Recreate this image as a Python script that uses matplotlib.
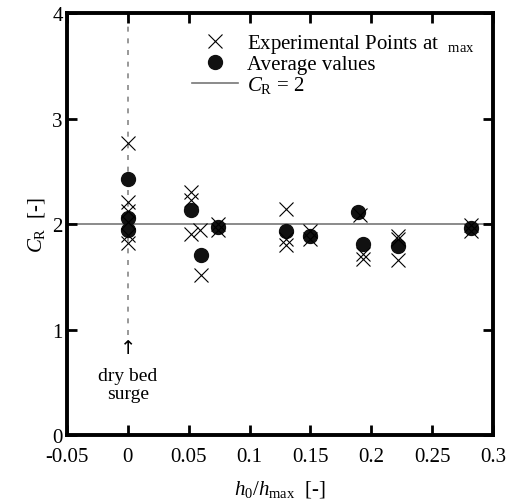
import matplotlib
matplotlib.use("Agg")
import matplotlib.pyplot as plt

plt.rcParams['font.family'] = ['Liberation Serif', 'DejaVu Serif']
plt.rcParams['mathtext.fontset'] = 'custom'
plt.rcParams['mathtext.rm'] = 'Liberation Serif'
plt.rcParams['mathtext.it'] = 'Liberation Serif:italic'

# experimental points (x = h0/hmax, y = CR)
exp_x = [0, 0, 0, 0, 0, 0,
         0.052, 0.052, 0.052, 0.059, 0.060,
         0.074, 0.074,
         0.130, 0.130, 0.130,
         0.150, 0.150,
         0.191, 0.193, 0.193,
         0.222, 0.222, 0.222,
         0.282, 0.282]
exp_y = [2.77, 2.21, 2.12, 2.02, 1.90, 1.82,
         2.30, 2.23, 1.91, 1.94, 1.52,
         2.00, 1.94,
         2.14, 1.86, 1.80,
         1.93, 1.86,
         2.09, 1.72, 1.67,
         1.89, 1.86, 1.66,
         1.99, 1.93]

# averages
avg_x = [0, 0, 0, 0.052, 0.060, 0.074, 0.130, 0.150, 0.189, 0.193, 0.222, 0.282]
avg_y = [2.43, 2.06, 1.94, 2.13, 1.71, 1.97, 1.93, 1.89, 2.11, 1.81, 1.79, 1.96]

fig = plt.figure(figsize=(5.11, 5.02), dpi=100)
ax = fig.add_axes([0.131, 0.1315, 0.834, 0.8405])

ax.axhline(2, color='#777777', lw=1.2, zorder=1, label='$C_{\\rm R}$ = 2')
ax.plot([0, 0], [0.95, 4], ls=(0, (3, 4)), color='#888888', lw=1.2, zorder=1)

ax.plot(exp_x, exp_y, 'x', color='black', ms=10, mew=0.8, zorder=3,
        label='Experimental Points at  $_{\\rm max}$')
ax.plot(avg_x, avg_y, 'o', color='#111111', ms=10, zorder=2, label='Average values')

ax.text(0, 0.83, '\u2191', ha='center', va='center', fontsize=14, family='DejaVu Sans')
ax.text(0, 0.48, 'dry bed\nsurge', ha='center', va='center', fontsize=14, linespacing=1.05)

ax.set_xlim(-0.05, 0.3)
ax.set_ylim(0, 4)
ax.set_xticks([-0.05, 0, 0.05, 0.1, 0.15, 0.2, 0.25, 0.3])
ax.set_xticklabels(['-0.05', '0', '0.05', '0.1', '0.15', '0.2', '0.25', '0.3'])
ax.set_yticks([0, 1, 2, 3, 4])
ax.tick_params(direction='in', top=True, right=True, length=7, width=2, labelsize=15, pad=3)
ax.tick_params(axis='x', pad=9)
for s in ax.spines.values():
    s.set_linewidth(2.8)

ax.set_xlabel('$h_0/h_{\\rm max}$  [-]', fontsize=15, labelpad=8)
ax.set_ylabel('$C_{\\rm R}$  [-]', fontsize=15)

h, l = ax.get_legend_handles_labels()
ax.legend([h[1], h[2], h[0]], [l[1], l[2], l[0]], loc='upper right', frameon=False,
          fontsize=15, handlelength=2.2, handletextpad=0.4, labelspacing=0.0,
          borderaxespad=0.5)

fig.savefig('out.png', dpi=100)
